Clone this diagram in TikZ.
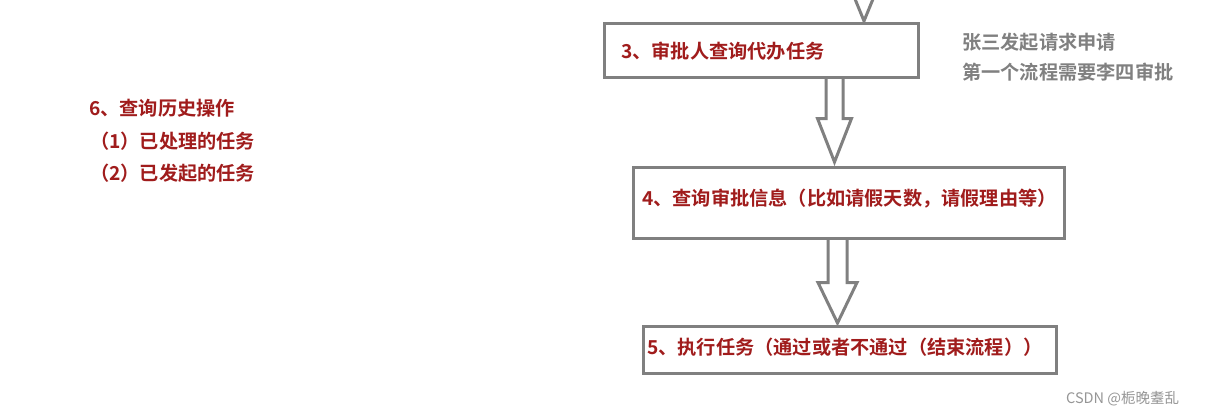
\documentclass[tikz,border=0pt]{standalone}
\usepackage{fontspec}
\newfontfamily\cjkb{Noto Sans CJK SC Bold}
\newfontfamily\cjkr{Noto Sans CJK SC}
\usetikzlibrary{calc}
\definecolor{stepred}{RGB}{160,28,28}
\definecolor{notegray}{RGB}{128,128,128}
\definecolor{boxgray}{RGB}{128,128,128}
\definecolor{markgray}{RGB}{150,150,150}
\begin{document}
\begin{tikzpicture}[x=1pt,y=-1pt,
  stepbox/.style={draw=boxgray,line width=3pt,rectangle,inner sep=0pt,fill=white},
  steptext/.style={anchor=west,inner sep=0pt,text=stepred,font=\cjkb\fontsize{19.2}{22}\selectfont},
  notetext/.style={anchor=west,inner sep=0pt,text=notegray,font=\cjkb\fontsize{19.2}{22}\selectfont},
  hollow/.style={draw=boxgray,line width=3pt,line join=miter}]
\useasboundingbox (0,0) rectangle (1217,416);
\fill[white] (0,0) rectangle (1217,416);
% boxes
\node[stepbox,minimum width=314pt,minimum height=54pt] (b3) at (761,50) {};
\node[stepbox,minimum width=431pt,minimum height=71pt] (b4) at (848.5,202.5) {};
\node[stepbox,minimum width=413pt,minimum height=47pt] (b5) at (849.5,349.5) {};
% box texts
\node[steptext] (t3) at (621,51) {3、审批人查询代办任务};
\node[steptext] (t4) at (642,199) {4、查询审批信息（比如请假天数，请假理由等）};
\node[steptext] (t5) at (647,347) {5、执行任务（通过或者不通过（结束流程））};
% incoming arrow fragment above box 3
\coordinate (a0) at (864,21);
\draw[hollow] ($(a0)+(-9,-22)$) -- (a0) -- ($(a0)+(9,-22)$);
% arrow 3 -> 4
\coordinate (a1s) at (834.5,78.5);
\coordinate (a1e) at (834.5,162);
\draw[hollow] ($(a1s)+(-8.5,0)$) -- ($(a1s)+(-8.5,40)$) -- ($(a1s)+(-17,40)$) -- (a1e)
  -- ($(a1s)+(17,40)$) -- ($(a1s)+(8.5,40)$) -- ($(a1s)+(8.5,0)$);
% arrow 4 -> 5
\coordinate (a2s) at (837.5,239.5);
\coordinate (a2e) at (837.5,323);
\draw[hollow] ($(a2s)+(-9.5,0)$) -- ($(a2s)+(-9.5,43)$) -- ($(a2s)+(-19.5,43)$) -- (a2e)
  -- ($(a2s)+(19.5,43)$) -- ($(a2s)+(9.5,43)$) -- ($(a2s)+(9.5,0)$);
% notes
\node[notetext] (n1) at (962,42) {张三发起请求申请};
\node[notetext] (n2) at (962,72) {第一个流程需要李四审批};
% left list
\node[steptext] (h0) at (89,108) {6、查询历史操作};
\node[steptext] (h1) at (90,141) {（1）已处理的任务};
\node[steptext] (h2) at (90,173) {（2）已发起的任务};
% watermark
\node[anchor=west,inner sep=0pt,text=markgray,font=\cjkr\fontsize{14.5}{17}\selectfont] (wm) at (1066,399) {CSDN @栀晚耋乱};
\end{tikzpicture}
\end{document}
